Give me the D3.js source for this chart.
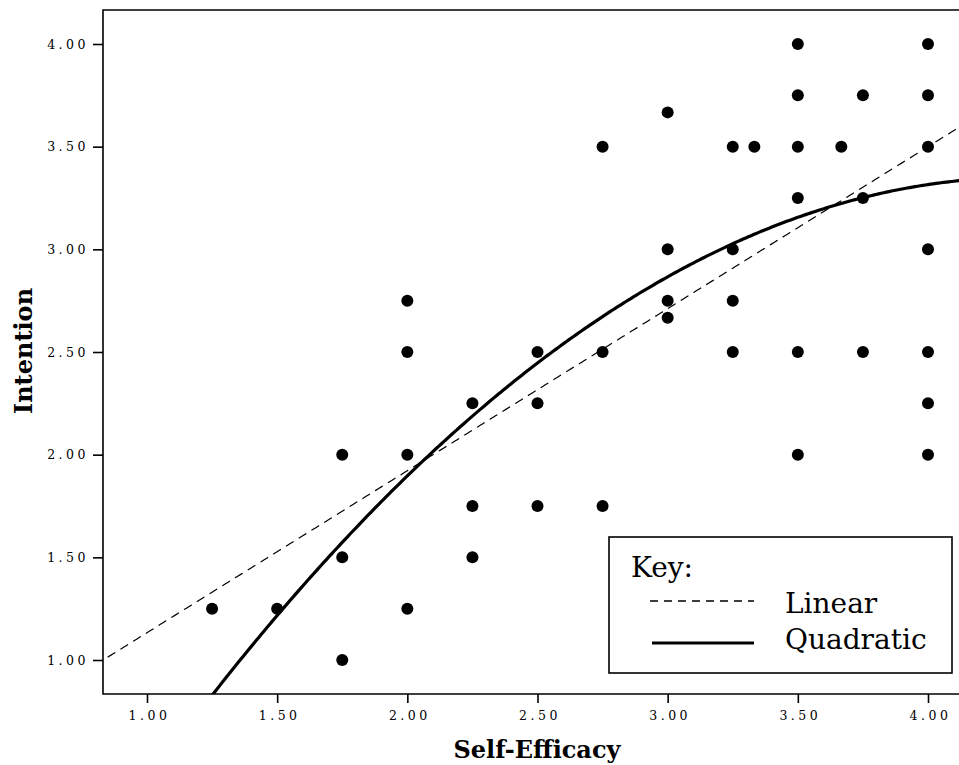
<!DOCTYPE html>
<html>
<head>
<meta charset="utf-8">
<script src="https://cdn.jsdelivr.net/npm/d3@7"></script>
<style>
  body { margin: 0; background: #fff; }
  text { font-family: "DejaVu Serif", Georgia, serif; fill: #000; }
</style>
</head>
<body>
<div id="chart"></div>
<script>
// self-efficacy (x) and intention (y) for each respondent
const selfEfficacy = [1.25, 1.5, 1.75, 1.75, 1.75, 2.0, 2.0, 2.0, 2.0, 2.25, 2.25, 2.25,
  2.5, 2.5, 2.5, 2.75, 2.75, 2.75, 3.0, 3.0, 3.0, 3.0, 3.25, 3.25, 3.25, 3.25, 3.333,
  3.5, 3.5, 3.5, 3.5, 3.5, 3.5, 3.667, 3.75, 3.75, 3.75,
  4.0, 4.0, 4.0, 4.0, 4.0, 4.0, 4.0];
const intention = [1.25, 1.25, 2.0, 1.5, 1.0, 2.75, 2.5, 2.0, 1.25, 2.25, 1.75, 1.5,
  2.5, 2.25, 1.75, 3.5, 2.5, 1.75, 3.667, 3.0, 2.75, 2.667, 3.5, 3.0, 2.75, 2.5, 3.5,
  4.0, 3.75, 3.5, 3.25, 2.5, 2.0, 3.5, 3.75, 3.25, 2.5,
  4.0, 3.75, 3.5, 3.0, 2.5, 2.25, 2.0];

const xTicks = [1.0, 1.5, 2.0, 2.5, 3.0, 3.5, 4.0];
const yTicks = [1.0, 1.5, 2.0, 2.5, 3.0, 3.5, 4.0];

// fitted curves (coefficients)
const linearFit = [0.344, 0.789];
const quadFit = [-1.603, 2.270, -0.2601];

const legendLabels = ["Linear", "Quadratic"];

const width = 959, height = 765;
const plotLeft = 103, plotTop = 10, plotBottom = 694, plotRight = 965;

const svg = d3.select("#chart").append("svg")
  .attr("width", width)
  .attr("height", height);

const x = d3.scaleLinear().domain([1, 4]).range([147, 928]);
const y = d3.scaleLinear().domain([1, 4]).range([660, 44]);

svg.append("clipPath").attr("id", "plot")
  .append("rect")
  .attr("x", plotLeft).attr("y", plotTop)
  .attr("width", plotRight - plotLeft).attr("height", plotBottom - plotTop);

// axes
const xAxis = svg.append("g")
  .attr("transform", "translate(0," + plotBottom + ")")
  .call(d3.axisBottom(x).tickValues(xTicks).tickFormat(d3.format(".2f")).tickSize(9).tickPadding(8));
const yAxis = svg.append("g")
  .attr("transform", "translate(" + plotLeft + ",0)")
  .call(d3.axisLeft(y).tickValues(yTicks).tickFormat(d3.format(".2f")).tickSize(10).tickPadding(4));

[xAxis, yAxis].forEach(function(g) {
  g.select(".domain").remove();
  g.selectAll(".tick line").attr("stroke", "#000").attr("stroke-width", 1.6);
  g.selectAll(".tick text")
    .style("font-family", "'DejaVu Serif', serif")
    .style("font-size", "12.5px")
    .style("letter-spacing", "3.5px");
});
xAxis.selectAll(".tick text").attr("dx", "2px");

// frame
svg.append("path")
  .attr("d", "M" + plotRight + "," + plotTop + "H" + plotLeft + "V" + plotBottom + "H" + plotRight)
  .attr("fill", "none")
  .attr("stroke", "#000")
  .attr("stroke-width", 1.6);

const plot = svg.append("g").attr("clip-path", "url(#plot)");

const xs = d3.range(0.8, 4.2001, 0.01);

const line = d3.line()
  .x(d => x(d[0]))
  .y(d => y(d[1]));

plot.append("path")
  .datum(xs.map(v => [v, linearFit[0] + linearFit[1] * v]))
  .attr("d", line)
  .attr("fill", "none")
  .attr("stroke", "#000")
  .attr("stroke-width", 1.2)
  .attr("stroke-dasharray", "9,6");

plot.append("path")
  .datum(xs.map(v => [v, quadFit[0] + quadFit[1] * v + quadFit[2] * v * v]))
  .attr("d", line)
  .attr("fill", "none")
  .attr("stroke", "#000")
  .attr("stroke-width", 3.2);

plot.selectAll("circle")
  .data(selfEfficacy)
  .enter()
  .append("circle")
  .attr("cx", d => x(d))
  .attr("cy", (d, i) => y(intention[i]))
  .attr("r", 6)
  .attr("fill", "#000");

// legend
const legend = svg.append("g");
legend.append("rect")
  .attr("x", 609).attr("y", 537)
  .attr("width", 343).attr("height", 136)
  .attr("fill", "#fff")
  .attr("stroke", "#000")
  .attr("stroke-width", 1.6);
legend.append("text")
  .attr("x", 631).attr("y", 577)
  .style("font-size", "28px")
  .text("Key:");
legend.append("line")
  .attr("x1", 650).attr("x2", 754).attr("y1", 601).attr("y2", 601)
  .attr("stroke", "#000").attr("stroke-width", 1.4)
  .attr("stroke-dasharray", "8,6");
legend.append("line")
  .attr("x1", 652).attr("x2", 754).attr("y1", 643).attr("y2", 643)
  .attr("stroke", "#000").attr("stroke-width", 3.2);
legend.selectAll(".lab")
  .data(legendLabels)
  .enter()
  .append("text")
  .attr("class", "lab")
  .attr("x", 785)
  .attr("y", (d, i) => 613 + i * 36)
  .style("font-size", "28px")
  .text(d => d);

// axis titles
svg.append("text")
  .attr("x", 537).attr("y", 758)
  .attr("text-anchor", "middle")
  .style("font-size", "24px")
  .style("font-weight", "bold")
  .text("Self-Efficacy");
svg.append("text")
  .attr("transform", "translate(32,351) rotate(-90)")
  .attr("text-anchor", "middle")
  .style("font-size", "24px")
  .style("font-weight", "bold")
  .text("Intention");
</script>
</body>
</html>
